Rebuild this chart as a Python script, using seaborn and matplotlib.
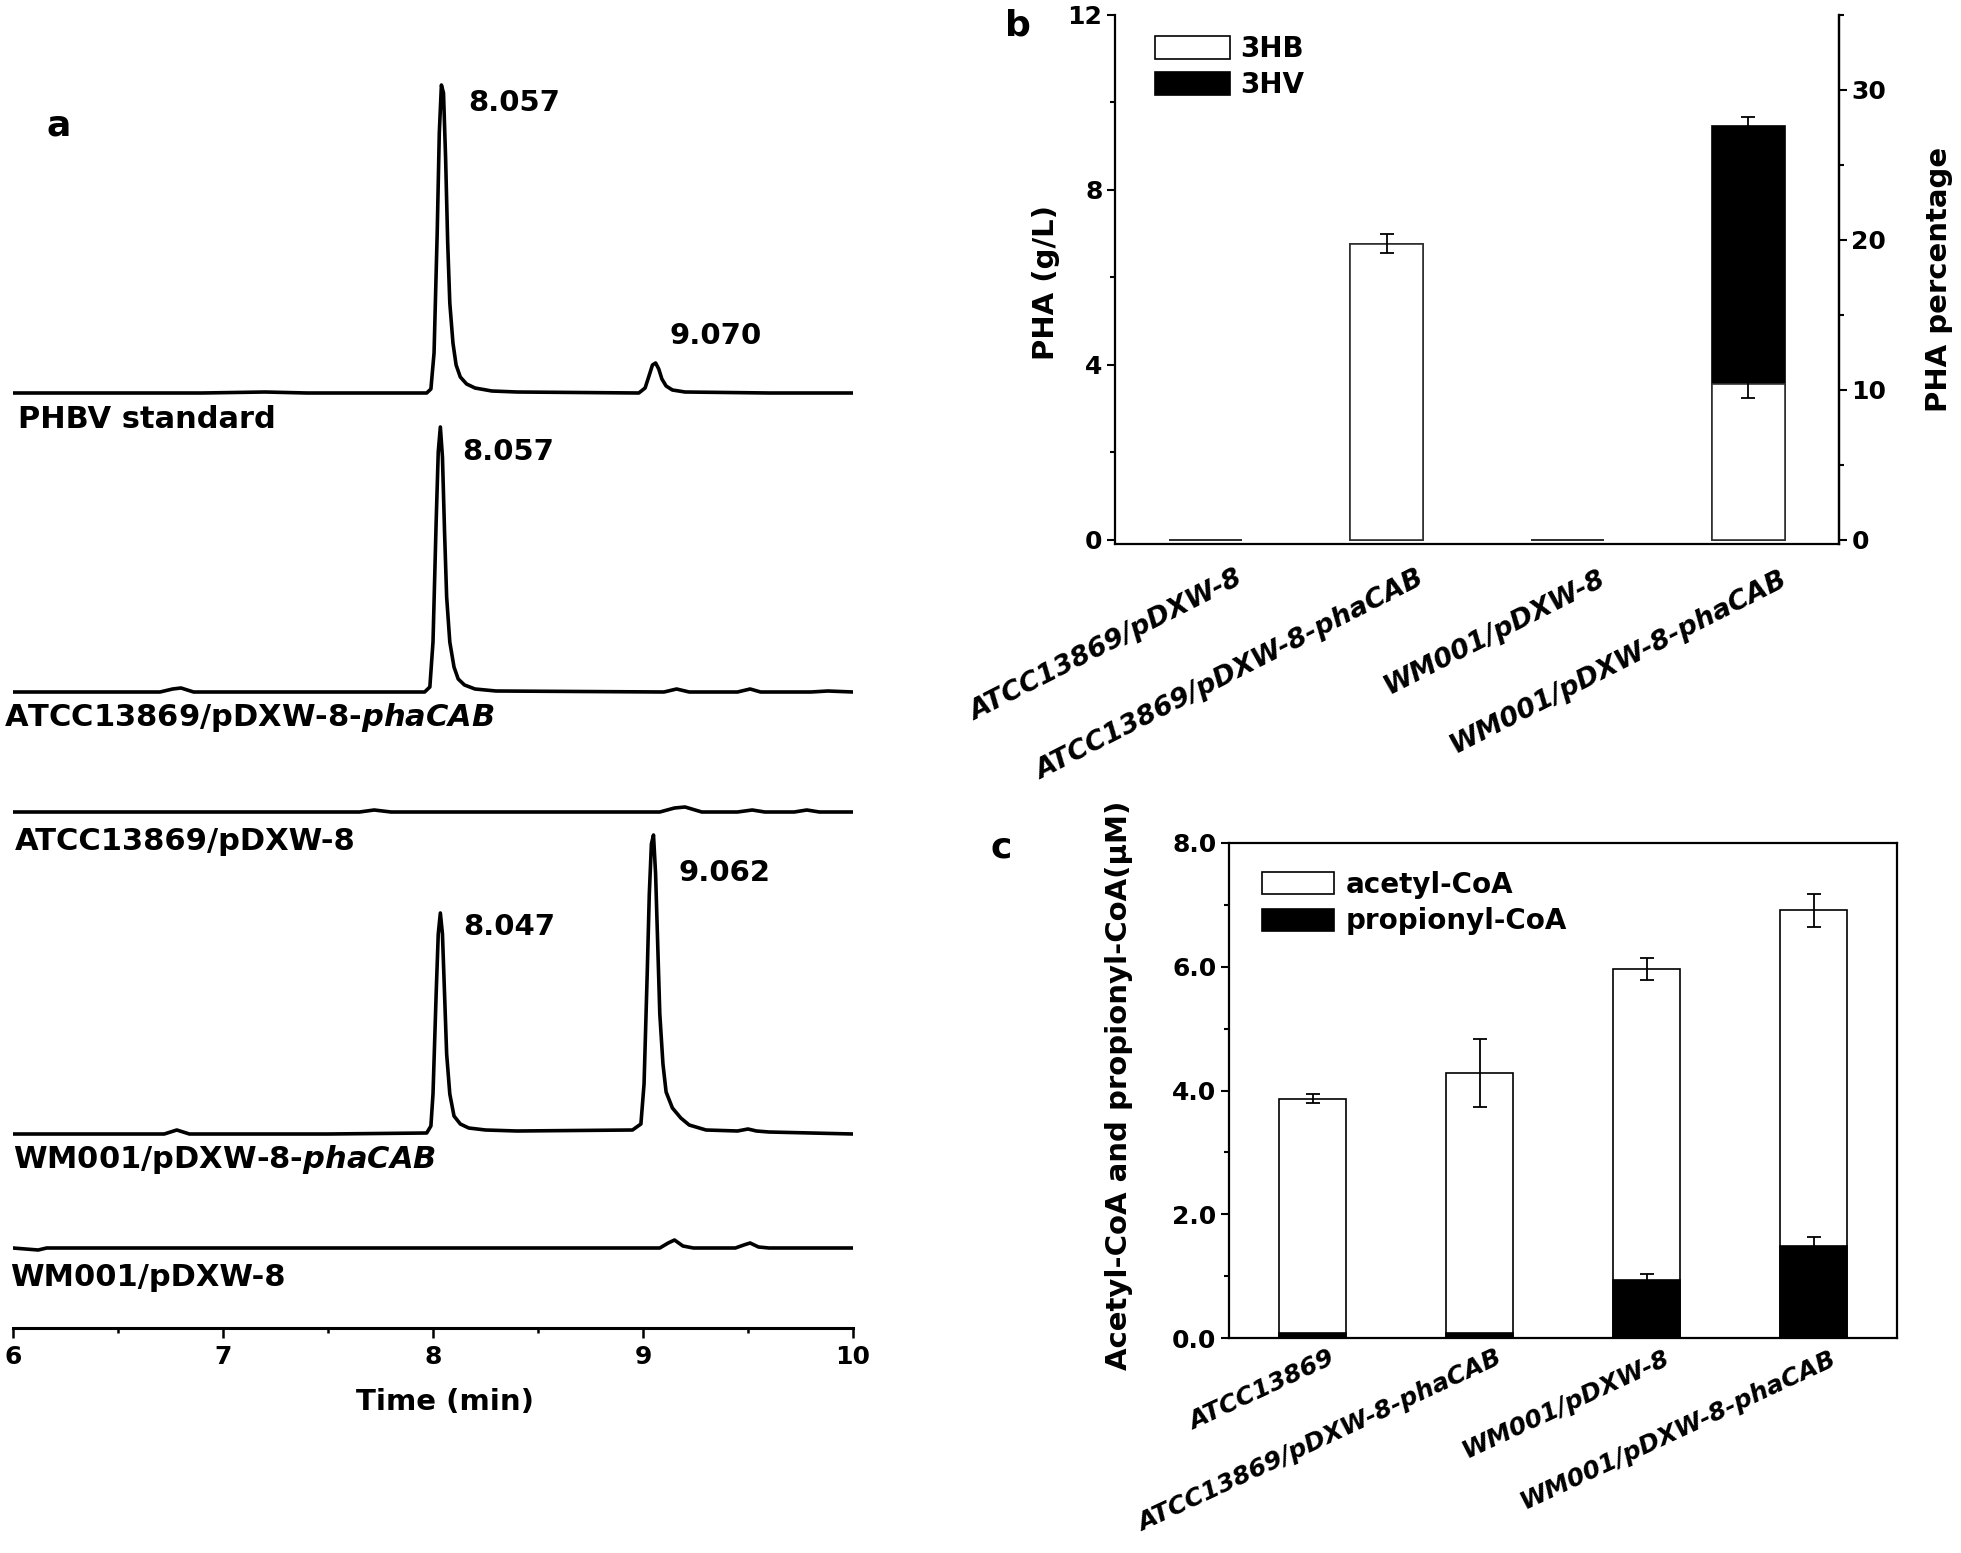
import numpy as np
import matplotlib
matplotlib.use('Agg')
import matplotlib.pyplot as plt
import matplotlib.transforms as mtransforms
from matplotlib.patches import Patch
from matplotlib.ticker import MultipleLocator
import seaborn as sns

# ---------------- data ----------------
# panel a: GC traces, time (min) vs signal (height above each baseline)
trace_labels = ["PHBV standard",
                r"ATCC13869/pDXW-8-$\mathbfit{phaCAB}$",
                "ATCC13869/pDXW-8",
                r"WM001/pDXW-8-$\mathbfit{phaCAB}$",
                "WM001/pDXW-8"]

phbv_t = [6.00, 6.90, 7.20, 7.40, 7.70, 7.97, 7.99, 8.005, 8.02, 8.03, 8.04, 8.05, 8.06, 8.07, 8.08,
          8.095, 8.11, 8.13, 8.16, 8.20, 8.28, 8.40, 8.98, 9.01, 9.03, 9.045, 9.06, 9.075, 9.09, 9.11,
          9.14, 9.20, 9.60, 10.00]
phbv_s = [0, 0, 1, 0, 0, 0, 4, 40, 160, 260, 308, 300, 235, 150, 90,
          50, 28, 16, 9, 5, 2, 1, 0, 5, 18, 28, 30, 24, 14, 7,
          3, 1, 0, 0]

atcc_cab_t = [6.00, 6.70, 6.76, 6.80, 6.86, 7.96, 7.985, 8.00, 8.015, 8.025, 8.035, 8.045, 8.055,
              8.065, 8.08, 8.10, 8.12, 8.15, 8.20, 8.30, 9.10, 9.16, 9.22, 9.45, 9.51, 9.56, 9.80,
              9.88, 10.00]
atcc_cab_s = [0, 0, 3, 4, 0, 0, 5, 50, 170, 240, 265, 235, 160,
              95, 50, 25, 13, 7, 3, 1, 0, 3, 0, 0, 3, 0, 0,
              1, 0]

atcc_t = [6.00, 7.65, 7.72, 7.80, 9.08, 9.15, 9.20, 9.28, 9.45, 9.52, 9.58, 9.72, 9.78, 9.84, 10.00]
atcc_s = [0, 0, 2, 0, 0, 4, 5, 0, 0, 2, 0, 0, 2, 0, 0]

wm_cab_t = [6.00, 6.72, 6.78, 6.84, 7.50, 7.97, 7.99, 8.00, 8.015, 8.025, 8.035, 8.045, 8.055, 8.065,
            8.08, 8.10, 8.13, 8.17, 8.25, 8.40, 8.95, 8.99, 9.005, 9.02, 9.03, 9.04, 9.05, 9.06,
            9.07, 9.08, 9.095, 9.11, 9.14, 9.18, 9.22, 9.30, 9.45, 9.50, 9.54, 9.60, 10.00]
wm_cab_s = [0, 0, 4, 0, 0, 1, 8, 40, 140, 200, 221, 200, 140, 80,
            40, 18, 10, 6, 4, 3, 4, 10, 50, 160, 240, 290, 299, 260,
            190, 120, 70, 42, 26, 16, 9, 4, 3, 5, 3, 2, 0]

wm_t = [6.00, 6.12, 6.16, 9.08, 9.12, 9.15, 9.19, 9.24, 9.44, 9.48, 9.51, 9.55, 9.60, 10.00]
wm_s = [0, -2, 0, 0, 5, 8, 2, 0, 0, 3, 5, 1, 0, 0]

peak_labels = ["8.057", "9.070", "8.057", "8.047", "9.062"]

# panel b: PHA titre (g/L)
strains_b = ["ATCC13869/pDXW-8", "ATCC13869/pDXW-8-phaCAB", "WM001/pDXW-8", "WM001/pDXW-8-phaCAB"]
hb = [0.0, 6.77, 0.0, 3.55]
hb_err = [0.0, 0.21, 0.0, 0.30]
hv = [0.0, 0.0, 0.0, 5.90]
hv_err = [0.0, 0.0, 0.0, 0.22]

# panel c: acyl-CoA pools (uM)
strains_c = ["ATCC13869", "ATCC13869/pDXW-8-phaCAB", "WM001/pDXW-8", "WM001/pDXW-8-phaCAB"]
propionyl = [0.08, 0.08, 0.94, 1.48]
propionyl_err = [0.0, 0.0, 0.09, 0.16]
acetyl = [3.79, 4.21, 5.02, 5.43]
acetyl_err = [0.08, 0.55, 0.18, 0.27]

# ---------------- style ----------------
sns.set_theme(style="ticks", rc={"axes.edgecolor": "black", "xtick.color": "black",
                                 "ytick.color": "black", "text.color": "black"})
plt.rcParams["font.family"] = ["DejaVu Sans"]
plt.rcParams["font.weight"] = "bold"
plt.rcParams["mathtext.fontset"] = "custom"
plt.rcParams["mathtext.bfit"] = "DejaVu Sans:italic:bold"

W, H = 1961, 1553
fig = plt.figure(figsize=(W / 100, H / 100), dpi=100)


def box(l, t, r, b):
    return [l / W, 1 - b / H, (r - l) / W, (b - t) / H]


def ftext(x, y, s, **kw):
    return fig.text(x / W, 1 - y / H, s, **kw)


# ---------------- panel a ----------------
ax_a = fig.add_axes(box(13, 0, 853, 1328))
traces = [(phbv_t, phbv_s), (atcc_cab_t, atcc_cab_s), (atcc_t, atcc_s),
          (wm_cab_t, wm_cab_s), (wm_t, wm_s)]
baselines = [935, 636, 516, 194, 80]
for (t, s), base in zip(traces, baselines):
    sns.lineplot(x=t, y=np.asarray(s) + base, ax=ax_a, color="black", linewidth=2.6,
                 estimator=None, sort=False)
ax_a.set_xlim(6, 10)
ax_a.set_ylim(0, 1328)
for side in ["left", "right", "top"]:
    ax_a.spines[side].set_visible(False)
ax_a.spines["bottom"].set_linewidth(2.2)
ax_a.set_yticks([])
ax_a.set_xticks([6, 7, 8, 9, 10])
ax_a.xaxis.set_minor_locator(MultipleLocator(0.5))
ax_a.tick_params(axis="x", which="major", direction="out", length=7, width=1.8, labelsize=18, pad=5)
ax_a.tick_params(axis="x", which="minor", direction="out", length=3.5, width=1.8, bottom=True)
ax_a.set_xlabel("")
ax_a.set_ylabel("")

label_pos = [(18, 420), (4, 718), (15, 842), (13, 1160), (10, 1277)]
for lab, (x, y) in zip(trace_labels, label_pos):
    ftext(x, y, lab, fontsize=22, ha="left", va="center")
peak_pos = [(514, 103), (716, 336), (508, 452), (509, 927), (725, 873)]
for lab, (x, y) in zip(peak_labels, peak_pos):
    ftext(x, y, lab, fontsize=21, ha="center", va="center")
ftext(445, 1402, "Time (min)", fontsize=21, ha="center", va="center")
ftext(59, 125, "a", fontsize=26, ha="center", va="center")

# ---------------- panel b ----------------
ax_b = fig.add_axes(box(1115, 15, 1839, 544))
pha_total = [a + b for a, b in zip(hb, hv)]
sns.barplot(x=strains_b, y=pha_total, color="black", saturation=1, width=0.4,
            edgecolor="black", linewidth=1.2, errorbar=None, ax=ax_b)
sns.barplot(x=strains_b, y=hb, color="white", saturation=1, width=0.4,
            edgecolor="#333333", linewidth=1.2, errorbar=None, ax=ax_b)
xb = np.arange(len(strains_b))
for vals, errs in [(hb, hb_err), (pha_total, hv_err)]:
    m = np.asarray(errs) > 0
    ax_b.errorbar(xb[m], np.asarray(vals)[m], yerr=np.asarray(errs)[m], fmt="none",
                  ecolor="black", elinewidth=1.3, capsize=5, capthick=1.3, zorder=5)
ax_b.set_xlim(-0.5, 3.5)
ax_b.set_ylim(-0.1, 12)
ax_b.set_yticks([0, 4, 8, 12])
ax_b.yaxis.set_minor_locator(MultipleLocator(2))
ax_b.spines["top"].set_visible(False)
for side in ["left", "bottom", "right"]:
    ax_b.spines[side].set_linewidth(1.6)
ax_b.tick_params(axis="y", which="major", length=6, width=1.5, labelsize=18, pad=3)
ax_b.tick_params(axis="y", which="minor", length=3.5, width=1.5, left=True)
ax_b.tick_params(axis="x", length=0, pad=0)
ax_b.set_xlabel("")
ax_b.set_ylabel("")

ax_b2 = ax_b.twinx()
ax_b2.set_ylim(-0.1 * 35 / 12, 35)
ax_b2.set_yticks([0, 10, 20, 30])
ax_b2.yaxis.set_minor_locator(MultipleLocator(5))
ax_b2.spines["top"].set_visible(False)
ax_b2.spines["right"].set_linewidth(1.6)
ax_b2.tick_params(axis="y", which="major", length=6, width=1.5, labelsize=18, pad=3)
ax_b2.tick_params(axis="y", which="minor", length=3.5, width=1.5, right=True)

ax_b.legend(handles=[Patch(facecolor="white", edgecolor="black", linewidth=1.2, label="3HB"),
                     Patch(facecolor="black", edgecolor="black", linewidth=1.2, label="3HV")],
            loc="upper left", bbox_to_anchor=(40 / 724, 1 - 20 / 529), frameon=False,
            borderpad=0, borderaxespad=0, fontsize=20, handlelength=2.7, handleheight=0.9,
            handletextpad=0.35, labelspacing=0.3)

ftext(1046, 282, "PHA (g/L)", fontsize=21, rotation=90, ha="center", va="center")
ftext(1939, 279, "PHA percentage", fontsize=21, rotation=90, ha="center", va="center")
ftext(1018, 25, "b", fontsize=26, ha="center", va="center")


def slant_labels(ax, labels, dx, dy, size, angle):
    off = mtransforms.ScaledTranslation(dx / 100, -dy / 100, fig.dpi_scale_trans)
    ax.set_xticks(range(len(labels)))
    ax.set_xticklabels(labels, fontsize=size, fontstyle="italic", fontweight="bold")
    for lab in ax.get_xticklabels():
        lab.set_rotation(angle)
        lab.set_ha("right")
        lab.set_va("top")
        lab.set_rotation_mode("anchor")
        lab.set_transform(lab.get_transform() + off)


slant_labels(ax_b, strains_b, 30, 22, 19.5, 27)

# ---------------- panel c ----------------
ax_c = fig.add_axes(box(1229, 843, 1897, 1338))
coa_total = [a + p for a, p in zip(acetyl, propionyl)]
sns.barplot(x=strains_c, y=coa_total, color="white", saturation=1, width=0.4,
            edgecolor="black", linewidth=1.2, errorbar=None, ax=ax_c)
sns.barplot(x=strains_c, y=propionyl, color="black", saturation=1, width=0.4,
            edgecolor="black", linewidth=1.2, errorbar=None, ax=ax_c)
xc = np.arange(len(strains_c))
for vals, errs in [(coa_total, acetyl_err), (propionyl, propionyl_err)]:
    m = np.asarray(errs) > 0
    ax_c.errorbar(xc[m], np.asarray(vals)[m], yerr=np.asarray(errs)[m], fmt="none",
                  ecolor="black", elinewidth=1.3, capsize=5, capthick=1.3, zorder=5)
ax_c.set_xlim(-0.5, 3.5)
ax_c.set_ylim(0, 8)
ax_c.set_yticks([0, 2, 4, 6, 8])
ax_c.set_yticklabels(["0.0", "2.0", "4.0", "6.0", "8.0"])
ax_c.yaxis.set_minor_locator(MultipleLocator(1))
for side in ["left", "bottom", "right", "top"]:
    ax_c.spines[side].set_visible(True)
    ax_c.spines[side].set_linewidth(1.6)
ax_c.tick_params(axis="y", which="major", length=6, width=1.5, labelsize=18, pad=3)
ax_c.tick_params(axis="y", which="minor", length=3.5, width=1.5, left=True)
ax_c.tick_params(axis="x", length=0, pad=0)
ax_c.set_xlabel("")
ax_c.set_ylabel("")
ax_c.legend(handles=[Patch(facecolor="white", edgecolor="black", linewidth=1.2, label="acetyl-CoA"),
                     Patch(facecolor="black", edgecolor="black", linewidth=1.2, label="propionyl-CoA")],
            loc="upper left", bbox_to_anchor=(33 / 668, 1 - 28 / 495), frameon=False,
            borderpad=0, borderaxespad=0, fontsize=20, handlelength=2.6, handleheight=0.85,
            handletextpad=0.4, labelspacing=0.3)
slant_labels(ax_c, strains_c, 16, 8, 18, 25)

ftext(1119, 1085, "Acetyl-CoA and propionyl-CoA(μM)", fontsize=21, rotation=90,
      ha="center", va="center")
ftext(1001, 847, "c", fontsize=26, ha="center", va="center")

fig.savefig("out.png", dpi=100)
